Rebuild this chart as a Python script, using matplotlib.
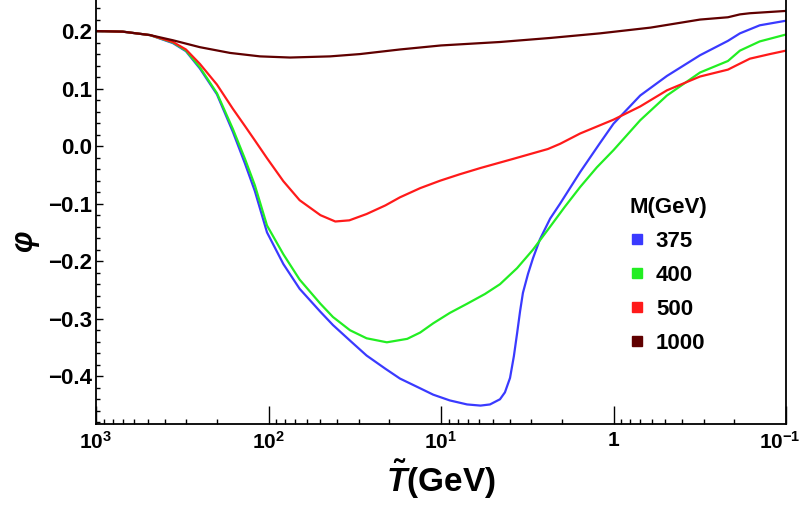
import numpy as np
import matplotlib
matplotlib.use("Agg")
import matplotlib.pyplot as plt
import matplotlib.transforms as mtransforms
from matplotlib.lines import Line2D
from matplotlib.ticker import LogLocator, MultipleLocator, FixedLocator, FixedFormatter

plt.rcParams['font.family'] = ['Liberation Sans', 'DejaVu Sans']
plt.rcParams['font.weight'] = 'bold'
plt.rcParams['mathtext.fontset'] = 'custom'
plt.rcParams['mathtext.rm'] = 'Liberation Sans:bold'
plt.rcParams['mathtext.it'] = 'Liberation Sans:italic:bold'
plt.rcParams['mathtext.bf'] = 'Liberation Sans:bold'

# phi(T) for each mass, T in GeV (decreasing)
T_375 = [1000, 700, 486, 358, 301, 250, 199, 161, 137, 120, 102, 82, 66, 50,
         42.3, 33.7, 27, 21, 17.3, 13.2, 11.1, 8.9, 7.06, 5.9, 5.2, 4.55,
         4.26, 3.98, 3.78, 3.62, 3.48, 3.35, 3.13, 2.93, 2.67, 2.33, 2.04,
         1.56, 1.2, 1.0, 0.70, 0.49, 0.315, 0.217, 0.185, 0.142, 0.1]
phi_375 = [0.200, 0.199, 0.193, 0.179, 0.165, 0.135, 0.090, 0.025, -0.030,
           -0.078, -0.150, -0.205, -0.248, -0.288, -0.311, -0.338, -0.364,
           -0.387, -0.404, -0.421, -0.432, -0.442, -0.449, -0.451, -0.449,
           -0.440, -0.428, -0.403, -0.365, -0.325, -0.287, -0.255, -0.222,
           -0.195, -0.162, -0.126, -0.100, -0.045, 0.005, 0.039, 0.088,
           0.122, 0.158, 0.183, 0.196, 0.210, 0.218]

T_400 = [1000, 700, 486, 358, 301, 250, 199, 161, 137, 120, 102, 82, 66, 50,
         42.3, 33.7, 27, 20.6, 15.7, 13.2, 11.1, 8.9, 7.06, 5.56, 4.55,
         3.62, 2.93, 2.33, 1.91, 1.56, 1.25, 1.0, 0.70, 0.49, 0.315, 0.217,
         0.185, 0.142, 0.1]
phi_400 = [0.200, 0.199, 0.193, 0.180, 0.166, 0.137, 0.092, 0.030, -0.022,
           -0.068, -0.138, -0.188, -0.232, -0.274, -0.297, -0.320, -0.334,
           -0.341, -0.335, -0.324, -0.308, -0.290, -0.274, -0.257, -0.240,
           -0.212, -0.180, -0.140, -0.105, -0.071, -0.037, -0.007, 0.045,
           0.088, 0.128, 0.148, 0.166, 0.182, 0.194]

T_500 = [1000, 700, 486, 358, 301, 250, 199, 161, 137, 120, 102, 82, 66, 50,
         41, 34, 27, 21, 17.3, 13.2, 10.1, 7.8, 5.9, 3.8, 2.4, 2.04, 1.56,
         1.0, 0.70, 0.49, 0.315, 0.217, 0.192, 0.162, 0.124, 0.1]
phi_500 = [0.200, 0.199, 0.193, 0.181, 0.168, 0.143, 0.107, 0.065, 0.035,
           0.010, -0.021, -0.061, -0.094, -0.120, -0.131, -0.129, -0.118,
           -0.103, -0.089, -0.073, -0.060, -0.049, -0.038, -0.022, -0.005,
           0.004, 0.022, 0.046, 0.069, 0.097, 0.121, 0.133, 0.141, 0.152,
           0.160, 0.166]

T_1000 = [1000, 700, 486, 358, 250, 167, 112, 75, 44, 29.5, 17.3, 10, 4.55,
          2.33, 1.2, 0.61, 0.315, 0.217, 0.185, 0.162, 0.1]
phi_1000 = [0.200, 0.199, 0.193, 0.184, 0.172, 0.162, 0.156, 0.154, 0.156,
            0.160, 0.168, 0.175, 0.181, 0.188, 0.196, 0.206, 0.220, 0.224,
            0.229, 0.231, 0.235]

masses = ['375', '400', '500', '1000']
colors = ['#3a3aff', '#22ee22', '#ff1a1a', '#600000']
temps = [T_375, T_400, T_500, T_1000]
series = [phi_375, phi_400, phi_500, phi_1000]

xticks = [1000, 100, 10, 1, 0.1]
xticklabels = ['$10^{3}$', '$10^{2}$', '$10^{1}$', '1', '$10^{-1}$']

fig = plt.figure(figsize=(8.05, 5.18), dpi=100)
ax = fig.add_axes([96 / 805, 1 - 424 / 518, (786 - 96) / 805, 424 / 518])

for t, phi, c in zip(temps, series, colors):
    ax.plot(t, phi, color=c, lw=1.6, solid_capstyle='round',
            solid_joinstyle='round')

ax.set_xscale('log')
ax.set_xlim(1000, 0.1)
ax.set_ylim(-0.483, 0.254)

ax.xaxis.set_major_locator(FixedLocator(xticks))
ax.xaxis.set_major_formatter(FixedFormatter(xticklabels))
ax.xaxis.set_minor_locator(LogLocator(base=10, subs=np.arange(2, 10)))
ax.yaxis.set_major_locator(MultipleLocator(0.1))
ax.yaxis.set_minor_locator(MultipleLocator(0.02))
ax.yaxis.set_major_formatter(plt.FuncFormatter(
    lambda v, p: ('%.1f' % v).replace('-', '\u2212')))

ax.tick_params(axis='x', which='major', direction='in', length=13, width=1,
               labelsize=15, pad=5, top=False)
ax.tick_params(axis='x', which='minor', direction='in', length=3.5, width=1,
               top=False)
ax.tick_params(axis='y', which='major', direction='in', length=5, width=1,
               labelsize=16, pad=3, right=False)
ax.tick_params(axis='y', which='minor', direction='in', length=3, width=1,
               right=False)
for lab in ax.get_xticklabels() + ax.get_yticklabels():
    lab.set_fontweight('bold')

# keep the last x label inside the figure edge
last = ax.get_xticklabels()[-1]
last.set_transform(last.get_transform() +
                   mtransforms.ScaledTranslation(-6 / 100, 0, fig.dpi_scale_trans))

ax.spines['top'].set_visible(False)
for s in ['left', 'bottom', 'right']:
    ax.spines[s].set_linewidth(1.3)

ax.set_xlabel(r'$\tilde{T}$(GeV)', fontsize=24, fontweight='bold', labelpad=4)
ax.set_ylabel('φ', fontsize=22, fontweight='bold', fontstyle='italic')
ax.yaxis.set_label_coords(-0.083, 0.43)

handles = [Line2D([], [], ls='none', marker='s', ms=7, color=c,
                  markeredgecolor=c) for c in colors]
leg = ax.legend(handles, masses, title='M(GeV)', loc='upper left',
                bbox_to_anchor=(627 / 805, 1 - 195 / 518),
                bbox_transform=fig.transFigure, frameon=False,
                prop={'weight': 'bold', 'size': 16}, handlelength=0.7,
                handletextpad=0.5, labelspacing=0.58, borderpad=0.1,
                borderaxespad=0)
leg.get_title().set_fontweight('bold')
leg.get_title().set_fontsize(16)
leg._legend_box.align = 'left'

fig.savefig('out.png', dpi=100)
